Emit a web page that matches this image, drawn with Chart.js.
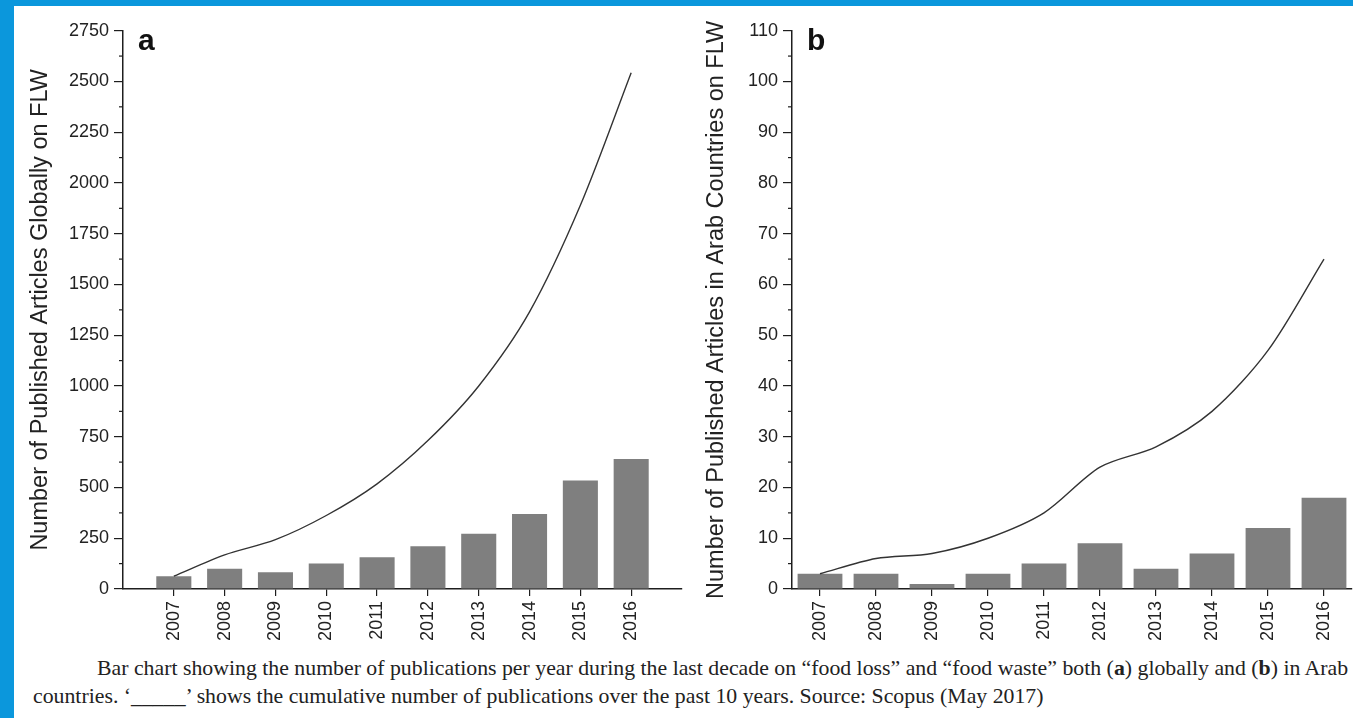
<!DOCTYPE html>
<html>
<head>
<meta charset="utf-8">
<script src="https://cdn.jsdelivr.net/npm/chart.js@4.4.1/dist/chart.umd.min.js"></script>
<style>
	html, body { margin: 0; padding: 0; background: #fff; }
	body { width: 1353px; height: 718px; position: relative; overflow: hidden; }
	.band { position: absolute; background: #0b97dc; }
	canvas { position: absolute; top: 0; }
	.cap { position: absolute; font-family: "Liberation Serif", "Times New Roman", serif; font-size: 21.8px; line-height: 24px; color: #222; white-space: nowrap; }
	#cap1 { left: 97px; top: 656px; width: 1251px; text-align: justify; text-align-last: justify; }
	#cap2 { left: 33px; top: 684px; }
</style>
</head>
<body>
<div class="band" style="left:0;top:0;width:1353px;height:6px"></div>
<div class="band" style="left:0;top:0;width:14px;height:718px"></div>
<canvas id="chartA" width="700" height="649" style="left:0"></canvas>
<canvas id="chartB" width="673" height="649" style="left:680px"></canvas>
<div class="cap" id="cap1">Bar chart showing the number of publications per year during the last decade on “food loss” and “food waste” both (<b>a</b>) globally and (<b>b</b>) in Arab</div>
<div class="cap" id="cap2">countries. ‘_____’ shows the cumulative number of publications over the past 10 years. Source: Scopus (May 2017)</div>
<script>
// datos
const years = [2007, 2008, 2009, 2010, 2011, 2012, 2013, 2014, 2015, 2016];
const globalPerYear = [63, 100, 82, 125, 157, 210, 272, 369, 535, 640];
const globalCumulative = [63, 168, 243, 362, 518, 731, 1000, 1365, 1890, 2543];
const arabPerYear = [3, 3, 1, 3, 5, 9, 4, 7, 12, 18];
const arabCumulative = [3, 6, 7, 10, 15, 24, 28, 35, 47, 65];

const axisColor = '#1e1e1e';
const textColor = '#222';
const tickFont = { family: '"Liberation Sans", Arial, sans-serif', size: 18 };

// marcas menores y letra del panel
const extras = {
	id: 'extras',
	afterDraw(chart, args, opts) {
		const s = chart.scales.y;
		const ctx = chart.ctx;
		ctx.save();
		ctx.strokeStyle = axisColor;
		ctx.lineWidth = 1.2;
		for (let i = 0; i < s.ticks.length - 1; i++) {
			const v = (s.ticks[i].value + s.ticks[i + 1].value) / 2;
			const py = s.getPixelForValue(v);
			ctx.beginPath();
			ctx.moveTo(s.right, py);
			ctx.lineTo(s.right - 4, py);
			ctx.stroke();
		}
		ctx.font = 'bold 30px "Liberation Sans", Arial, sans-serif';
		ctx.fillStyle = '#111';
		ctx.textBaseline = 'alphabetic';
		ctx.fillText(opts.letter, chart.chartArea.left + 15, chart.chartArea.top + 19);
		ctx.restore();
	}
};

function dibujar(id, perYear, cumulative, cfg) {
	const data = {
		datasets: [{
			type: 'line',
			data: years.map((y, i) => ({ x: y, y: cumulative[i] })),
			borderColor: '#333',
			borderWidth: 1.4,
			pointRadius: 0,
			tension: 0.3,
			order: 0
		},
		{
			type: 'bar',
			data: years.map((y, i) => ({ x: y, y: perYear[i] })),
			backgroundColor: '#7f7f7f',
			barPercentage: cfg.barPct,
			categoryPercentage: 1,
			order: 1
		}
		]
	};

	const config = {
		type: 'bar',
		data: data,
		plugins: [extras],
		options: {
			responsive: false,
			animation: false,
			layout: { padding: { left: 0, top: 30.7, right: cfg.padRight, bottom: 0 } },
			plugins: {
				legend: { display: false },
				tooltip: { enabled: false },
				extras: { letter: cfg.letter }
			},
			scales: {
				x: {
					type: 'linear',
					offset: false,
					min: cfg.xMin,
					max: cfg.xMax,
					afterBuildTicks: (s) => { s.ticks = years.map(v => ({ value: v })); },
					afterFit: (s) => { s.height = 60; },
					grid: { display: true, offset: false, drawOnChartArea: false, drawTicks: true, tickLength: 7, color: axisColor, lineWidth: 1.2 },
					border: { display: true, color: axisColor, width: 1.5 },
					ticks: {
						autoSkip: false,
						minRotation: 90,
						maxRotation: 90,
						padding: 5,
						color: textColor,
						font: tickFont,
						callback: (v) => String(v)
					}
				},
				y: {
					min: 0,
					max: cfg.yMax,
					afterFit: (s) => { s.width = cfg.yWidth; },
					grid: { display: true, drawOnChartArea: false, drawTicks: true, tickLength: 9, color: axisColor, lineWidth: 1.2 },
					border: { display: true, color: axisColor, width: 1.5 },
					ticks: {
						stepSize: cfg.step,
						padding: 5,
						color: textColor,
						font: tickFont,
						callback: (v) => String(v)
					},
					title: {
						display: true,
						text: cfg.title,
						color: textColor,
						padding: { top: cfg.titlePad, bottom: 0 },
						font: { family: '"Liberation Sans", Arial, sans-serif', size: 23.5 }
					}
				}
			}
		}
	};

	const ctx = document.getElementById(id).getContext('2d');
	return new Chart(ctx, config);
}

dibujar('chartA', globalPerYear, globalCumulative, {
	letter: 'a', title: 'Number of Published Articles Globally on FLW',
	xMin: 2006, xMax: 2017, yMax: 2750, step: 250,
	yWidth: 123, padRight: 18, titlePad: 26, barPct: 0.69
});

dibujar('chartB', arabPerYear, arabCumulative, {
	letter: 'b', title: 'Number of Published Articles in Arab Countries on FLW',
	xMin: 2006.5, xMax: 2016.5, yMax: 110, step: 10,
	yWidth: 112, padRight: 1, titlePad: 22, barPct: 0.8
});
</script>
</body>
</html>
